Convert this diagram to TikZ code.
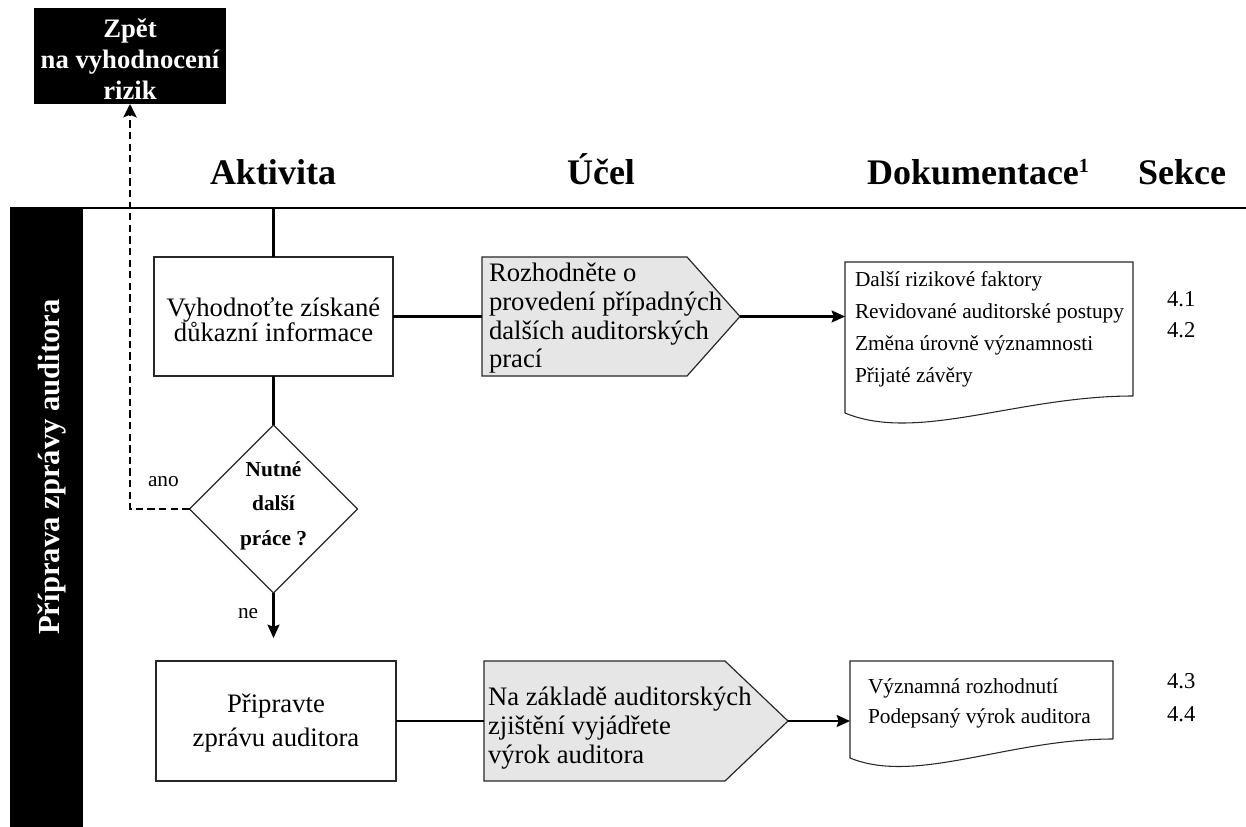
\documentclass[tikz,border=0pt]{standalone}
\usepackage{fontspec}
\setmainfont{Liberation Serif}
\usetikzlibrary{arrows.meta,shapes.geometric}

\definecolor{purposefill}{RGB}{230,230,230}
\definecolor{edge}{RGB}{40,40,40}

% stacked lines with a fixed baseline distance; the box baseline is the first line
\newcommand\linesL[2]{\vtop{\baselineskip=#1\lineskiplimit=-\maxdimen\lineskip=0pt\halign{##\hfil\cr#2\crcr}}}
\newcommand\linesC[2]{\vtop{\baselineskip=#1\lineskiplimit=-\maxdimen\lineskip=0pt\halign{\hfil##\hfil\cr#2\crcr}}}
% small raised footnote mark
\newcommand\notemark[1]{\raisebox{9pt}{\fontsize{15pt}{15pt}\selectfont #1}}

\begin{document}
\begin{tikzpicture}[x=0.75pt,y=-0.75pt,
  blank/.style={inner sep=0pt, outer sep=0pt},
  frame/.style={blank, draw=edge, line width=0.9pt},
  purp/.style={draw=edge, line width=0.9pt, fill=purposefill},
  docline/.style={draw=edge, line width=0.8pt, fill=white},
  conn/.style={line width=1.6pt},
  arr/.style={conn, -{Stealth[length=10pt,width=9pt,inset=1.5pt]}},
  back/.style={line width=1.9pt, dash pattern=on 5.5pt off 3.2pt,
               -{Stealth[length=10pt,width=10pt,inset=2pt]}},
  head/.style={blank, font=\fontsize{27pt}{30pt}\selectfont\bfseries},
  txt/.style={blank, font=\fontsize{20pt}{24pt}\selectfont},
  small/.style={blank, font=\fontsize{16pt}{19pt}\selectfont},
  sect/.style={blank, font=\fontsize{17pt}{20pt}\selectfont},
]
\useasboundingbox (0,0) rectangle (1246,827);

% swim lane band and header rule
\node[blank, fill=black, minimum width=54.75pt, minimum height=464.25pt] (lane) at (46.5,517.5) {};
\node[blank, rotate=90, anchor=base, text=white,
      font=\fontsize{23pt}{26pt}\selectfont\bfseries] (lanetitle) at (59,467) {Příprava zprávy auditora};
\coordinate (ruleL) at (10,208);
\coordinate (ruleR) at (1246,208);
\draw[line width=2pt] (ruleL) -- (ruleR);

% column headers
\node[head, anchor=base] (hAkt) at (273,185) {Aktivita};
\node[head, anchor=base] (hUcel) at (601,185) {Účel};
\node[head, anchor=base west] (hDok) at (867,185) {Dokumentace\notemark{1}};
\node[head, anchor=base] (hSek) at (1182,185) {Sekce};

% return target
\node[blank, fill=black, minimum width=144pt, minimum height=72pt] (back) at (130,56) {};
\node[blank, anchor=base, text=white, font=\fontsize{20pt}{23pt}\selectfont\bfseries] (backtxt) at (130,38)
  {\linesC{22.9pt}{Zpět\cr na vyhodnocení\cr rizik}};

% ---- first row
\node[frame, minimum width=179.25pt, minimum height=89.25pt] (act1) at (273.5,316.5) {};
\node[txt, anchor=base] (act1txt) at (273.5,316)
  {\linesC{18.75pt}{Vyhodnoťte získané\cr důkazní informace}};

\node[blank, minimum width=153.75pt, minimum height=89.25pt] (pur1) at (584.5,316.5) {};
\coordinate (pur1tip) at (740,316.5);
\draw[purp] (pur1.north west) -- (pur1.north east) -- (pur1tip) -- (pur1.south east) -- (pur1.south west) -- cycle;
\node[txt, anchor=base west] (pur1txt) at (489,282)
  {\linesL{21.5pt}{Rozhodněte o\cr provedení případných\cr dalších auditorských\cr prací}};

\node[blank, minimum width=216pt, minimum height=100.5pt] (doc1) at (989,329) {};
\coordinate (doc1bl) at (845,413);
\draw[docline] (doc1.south east) -- (doc1.north east) -- (doc1.north west) -- (doc1bl)
  .. controls (917,443) and (1018,396) .. (doc1.south east);
\node[small, anchor=base west] (doc1txt) at (855,287)
  {\linesL{23.8pt}{Další rizikové faktory\cr Revidované auditorské postupy\cr Změna úrovně významnosti\cr Přijaté závěry}};
\node[sect, anchor=base west] (sec1) at (1167,307) {\linesL{23.25pt}{4.1\cr 4.2}};

\coordinate (hdr) at (273.5,208);
\draw[conn] (hdr) -- (act1.north);
\draw[conn] (act1.east) -- (pur1.west);
\draw[arr] (pur1tip) -- (pur1tip -| doc1.west);

% ---- decision
\node[diamond, frame, aspect=1, minimum width=126pt, minimum height=126pt] (dec) at (273.5,509) {};
\node[blank, anchor=base, font=\fontsize{16pt}{19pt}\selectfont\bfseries] (dectxt) at (273.5,476)
  {\linesC{25.9pt}{Nutné\cr další\cr práce ?}};
\draw[conn] (act1.south) -- (dec.north);
\coordinate (decend) at (273.5,638);
\draw[arr] (dec.south) -- (decend);
\draw[back] (dec.west) -| (back.south);
\node[small, anchor=base west] (yes) at (148,486) {ano};
\node[small, anchor=base west] (no) at (238,618) {ne};

% ---- second row
\node[frame, minimum width=180pt, minimum height=90pt] (act2) at (276,721) {};
\node[txt, anchor=base] (act2txt) at (276,712)
  {\linesC{25.5pt}{Připravte\cr zprávu auditora}};

\node[blank, minimum width=180.75pt, minimum height=90pt] (pur2) at (604.5,721) {};
\coordinate (pur2tip) at (788,721);
\draw[purp] (pur2.north west) -- (pur2.north east) -- (pur2tip) -- (pur2.south east) -- (pur2.south west) -- cycle;
\node[txt, anchor=base west] (pur2txt) at (488,705)
  {\linesL{21.75pt}{Na základě auditorských\cr zjištění vyjádřete\cr výrok auditora}};

\node[blank, minimum width=197.25pt, minimum height=58.5pt] (doc2) at (981.5,700) {};
\coordinate (doc2bl) at (850,758);
\draw[docline] (doc2.south east) -- (doc2.north east) -- (doc2.north west) -- (doc2bl)
  .. controls (916,785) and (1008,739) .. (doc2.south east);
\node[small, anchor=base west] (doc2txt) at (868,693)
  {\linesL{22.5pt}{Významná rozhodnutí\cr Podepsaný výrok auditora}};
\node[sect, anchor=base west] (sec2) at (1167,688) {\linesL{24.75pt}{4.3\cr 4.4}};

\draw[conn] (act2.east) -- (pur2.west);
\draw[arr] (pur2tip) -- (pur2tip -| doc2.west);
\end{tikzpicture}
\end{document}
